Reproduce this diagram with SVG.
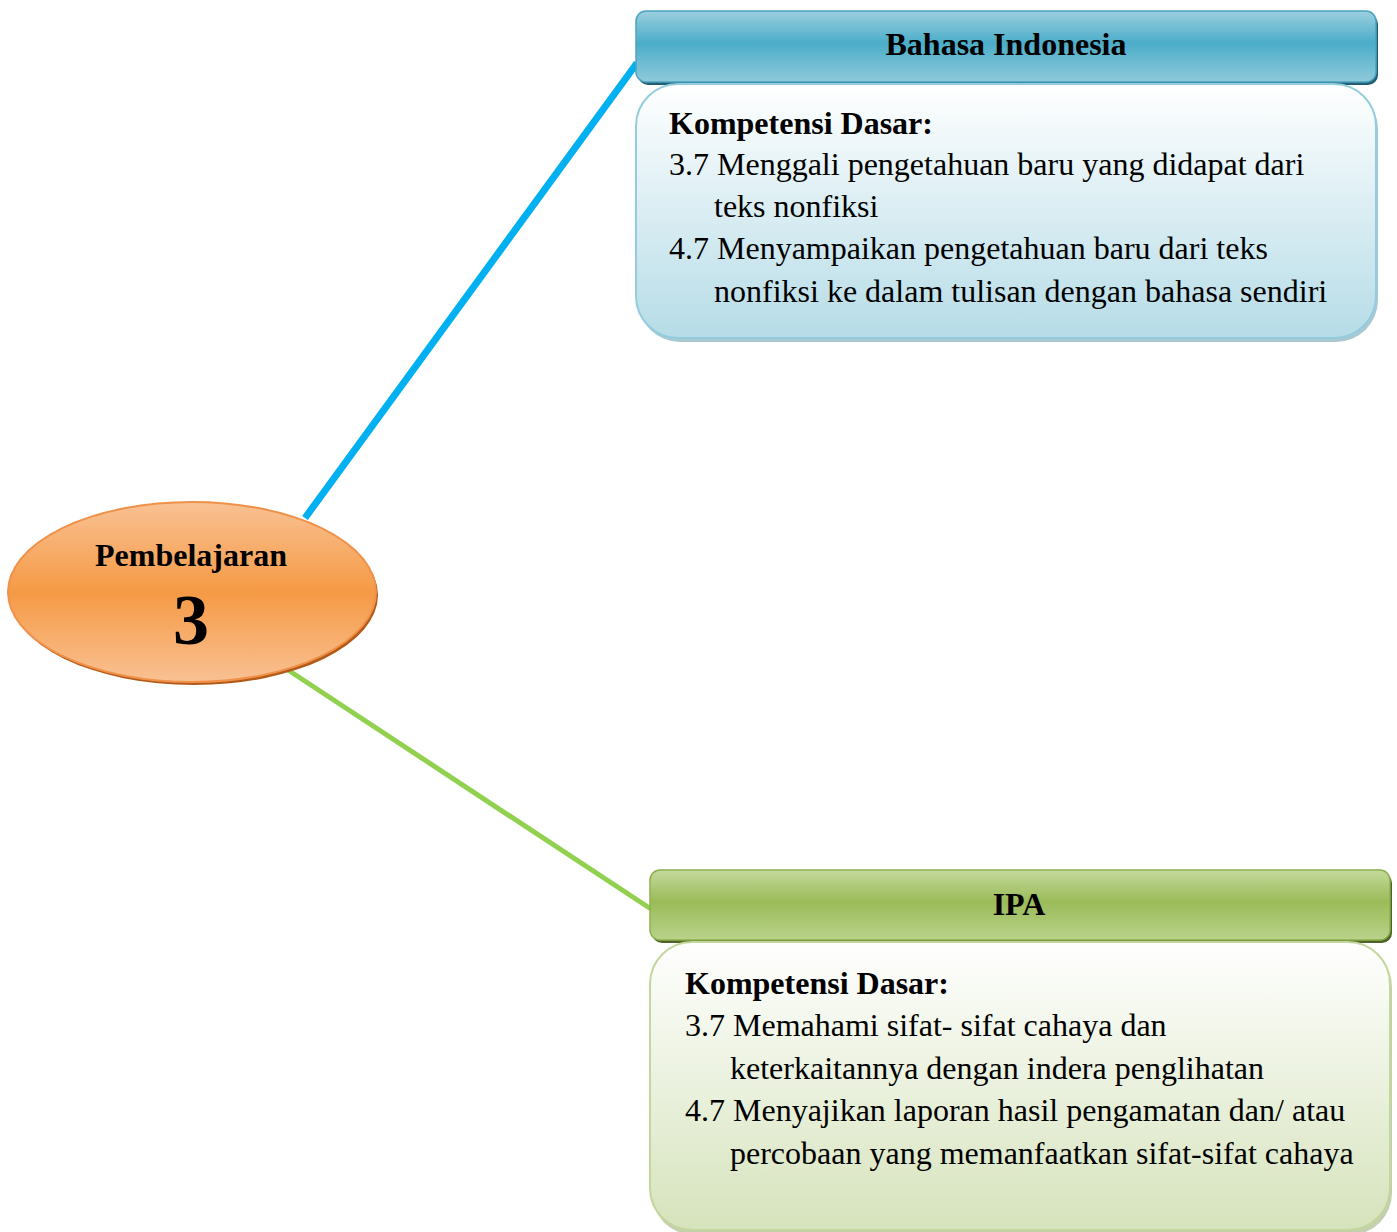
<svg xmlns="http://www.w3.org/2000/svg" width="1397" height="1232" viewBox="0 0 1397 1232">
<style>
text{font-family:"Liberation Serif","Times New Roman",serif;fill:#000}
.h{font-weight:bold;font-size:32px;text-anchor:middle}
.b{font-weight:bold;font-size:32px}
.t{font-size:32px}
</style>
<defs>
<linearGradient id="gHeadB" x1="0" y1="0" x2="0" y2="1">
<stop offset="0" stop-color="#9ccfdf"/><stop offset="0.45" stop-color="#4badc9"/><stop offset="1" stop-color="#8fcadb"/>
</linearGradient>
<linearGradient id="gBodyB" x1="0" y1="0" x2="0" y2="1">
<stop offset="0" stop-color="#ffffff"/><stop offset="1" stop-color="#b6dce7"/>
</linearGradient>
<linearGradient id="gHeadG" x1="0" y1="0" x2="0" y2="1">
<stop offset="0" stop-color="#c4da9c"/><stop offset="0.45" stop-color="#9bbb59"/><stop offset="1" stop-color="#b9d38a"/>
</linearGradient>
<linearGradient id="gBodyG" x1="0" y1="0" x2="0" y2="1">
<stop offset="0" stop-color="#ffffff"/><stop offset="1" stop-color="#d6e3bc"/>
</linearGradient>
<linearGradient id="gOval" x1="0" y1="0" x2="0" y2="1">
<stop offset="0" stop-color="#f9c193"/><stop offset="0.5" stop-color="#f59a45"/><stop offset="1" stop-color="#f9c193"/>
</linearGradient>
</defs>
<g id="connectors">
<line x1="305" y1="518" x2="637" y2="63" stroke="#00b0f0" stroke-width="7"/>
<line x1="282" y1="666" x2="651" y2="909" stroke="#92d050" stroke-width="5"/>
</g>
<g id="node-center">
<ellipse cx="194" cy="595" rx="184" ry="90" fill="#b35a18"/>
<ellipse cx="192" cy="592" rx="184" ry="90" fill="url(#gOval)" stroke="#f0914a" stroke-width="2"/>
<text class="h" x="191" y="566">Pembelajaran</text>
<text x="191" y="644" style="font-weight:bold;font-size:72px;text-anchor:middle">3</text>
</g>
<g id="node-bahasa-header">
<rect x="638" y="14" width="740" height="71" rx="10" fill="#215e72"/>
<rect x="636" y="11" width="740" height="71" rx="10" fill="url(#gHeadB)" stroke="#4aa4bf" stroke-width="1.5"/>
<text class="h" x="1006" y="55">Bahasa Indonesia</text>
</g>
<g id="node-bahasa-body">
<rect x="638" y="87" width="740" height="255" rx="42" fill="#a9c8d2"/>
<rect x="636" y="84" width="740" height="254" rx="42" fill="url(#gBodyB)" stroke="#93cddd" stroke-width="2"/>
<text class="b" x="669" y="134">Kompetensi Dasar:</text>
<text class="t" x="669" y="175">3.7 Menggali pengetahuan baru yang didapat dari</text>
<text class="t" x="714" y="217">teks nonfiksi</text>
<text class="t" x="669" y="259">4.7 Menyampaikan pengetahuan baru dari teks</text>
<text class="t" x="714" y="302">nonfiksi ke dalam tulisan dengan bahasa sendiri</text>
</g>
<g id="node-ipa-header">
<rect x="652" y="873" width="740" height="70" rx="10" fill="#4f6228"/>
<rect x="650" y="870" width="740" height="70" rx="10" fill="url(#gHeadG)" stroke="#8eb04e" stroke-width="1.5"/>
<text class="h" x="1019" y="915">IPA</text>
</g>
<g id="node-ipa-body">
<rect x="652" y="945" width="740" height="290" rx="42" fill="#c4cfb0"/>
<rect x="650" y="942" width="740" height="288" rx="42" fill="url(#gBodyG)" stroke="#c3d69b" stroke-width="2"/>
<text class="b" x="685" y="994">Kompetensi Dasar:</text>
<text class="t" x="685" y="1036">3.7 Memahami sifat- sifat cahaya dan</text>
<text class="t" x="730" y="1079">keterkaitannya dengan indera penglihatan</text>
<text class="t" x="685" y="1121">4.7 Menyajikan laporan hasil pengamatan dan/ atau</text>
<text class="t" x="730" y="1164">percobaan yang memanfaatkan sifat-sifat cahaya</text>
</g>
</svg>
